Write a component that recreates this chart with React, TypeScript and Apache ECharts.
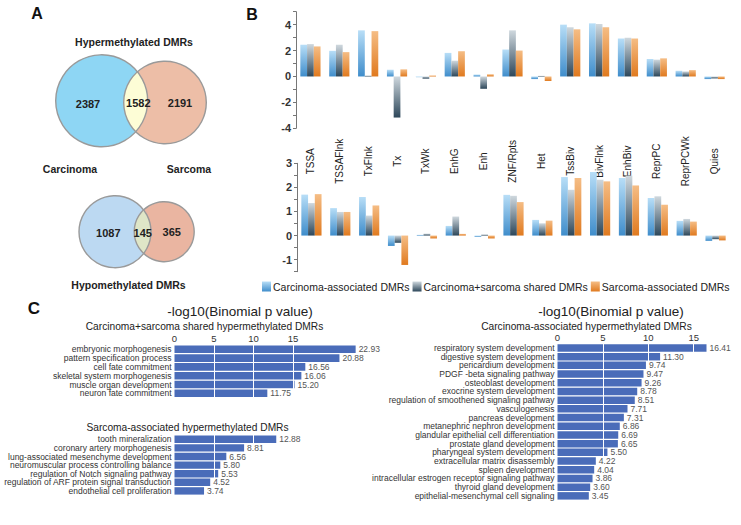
import React, { useEffect, useRef } from 'react';
import * as echarts from 'echarts';

// ---------- Panel A data ----------
const vennGroups = ['Carcinoma', 'Sarcoma'];
const hyperCounts = [2387, 1582, 2191];
const hypoCounts = [1087, 145, 365];

// ---------- Panel B data ----------
const bCategories = ['TSSA', 'TSSAFlnk', 'TxFlnk', 'Tx', 'TxWk', 'EnhG', 'Enh', 'ZNF/Rpts', 'Het', 'TssBiv', 'BivFlnk', 'EnhBiv', 'ReprPC', 'ReprPCWk', 'Quies'];
const seriesNames = ['Carcinoma-associated DMRs', 'Carcinoma+sarcoma shared DMRs', 'Sarcoma-associated DMRs'];
const topCarcinoma = [2.45, 1.98, 3.56, 0.52, -0.05, 1.82, 0.15, 2.08, -0.2, 4.0, 4.1, 2.93, 1.35, 0.44, -0.2];
const topShared = [2.5, 2.45, 0.08, -3.17, -0.17, 1.22, -0.95, 3.56, 0.05, 3.8, 4.05, 2.99, 1.3, 0.39, -0.15];
const topSarcoma = [2.32, 1.88, 3.5, 0.55, 0.08, 1.95, 0.17, 2.0, -0.35, 3.64, 3.8, 2.93, 1.4, 0.49, -0.2];
const bottomCarcinoma = [1.7, 1.14, 1.6, -0.43, 0.03, 0.4, -0.05, 1.69, 0.65, 2.43, 2.64, 2.39, 1.56, 0.61, -0.22];
const bottomShared = [1.35, 0.98, 0.83, -0.3, 0.08, 0.79, 0.05, 1.65, 0.51, 1.9, 2.32, 2.49, 1.63, 0.69, -0.15];
const bottomSarcoma = [1.72, 0.98, 1.25, -1.22, -0.12, 0.07, -0.12, 1.39, 0.62, 2.39, 2.25, 2.08, 1.28, 0.58, -0.2];

// ---------- Panel C data ----------
const cTitle = '-log10(Binomial p value)';
const sharedTitle = 'Carcinoma+sarcoma shared hypermethylated DMRs';
const sharedTerms = ['embryonic morphogenesis', 'pattern specification process', 'cell fate commitment', 'skeletal system morphogenesis', 'muscle organ development', 'neuron fate commitment'];
const sharedValues = [22.93, 20.88, 16.56, 16.06, 15.2, 11.75];
const sarcomaTitle = 'Sarcoma-associated hypermethylated DMRs';
const sarcomaTerms = ['tooth mineralization', 'coronary artery morphogenesis', 'lung-associated mesenchyme development', 'neuromuscular process controlling balance', 'regulation of Notch signaling pathway', 'regulation of ARF protein signal transduction', 'endothelial cell proliferation'];
const sarcomaValues = [12.88, 8.81, 6.56, 5.8, 5.53, 4.52, 3.74];
const carcinomaTitle = 'Carcinoma-associated hypermethylated DMRs';
const carcinomaTerms = ['respiratory system development', 'digestive system development', 'pericardium development', 'PDGF -beta signaling pathway', 'osteoblast development', 'exocrine system development', 'regulation of smoothened signaling pathway', 'vasculogenesis', 'pancreas development', 'metanephric nephron development', 'glandular epithelial cell differentiation', 'prostate gland development', 'pharyngeal system development', 'extracellular matrix disassembly', 'spleen development', 'intracellular estrogen receptor signaling pathway', 'thyroid gland development', 'epithelial-mesenchymal cell signaling'];
const carcinomaValues = [16.41, 11.3, 9.74, 9.47, 9.26, 8.78, 8.51, 7.71, 7.31, 6.86, 6.69, 6.65, 5.5, 4.22, 4.04, 3.86, 3.6, 3.45];
const cTicks = [0, 5, 10, 15];

const FONT = '"Liberation Sans", Arial, Helvetica, sans-serif';

function grad(top: string, bottom: string) {
  return new echarts.graphic.LinearGradient(0, 0, 0, 1, [
    { offset: 0, color: top },
    { offset: 1, color: bottom },
  ]);
}

function lensPoints(cx1: number, cy1: number, r1: number, cx2: number, cy2: number, r2: number, n = 40) {
  const dx = cx2 - cx1, dy = cy2 - cy1;
  const d = Math.sqrt(dx * dx + dy * dy);
  const a = (r1 * r1 - r2 * r2 + d * d) / (2 * d);
  const phi = Math.atan2(dy, dx);
  const alpha = Math.acos(a / r1);
  const beta = Math.acos((d - a) / r2);
  const psi = phi + Math.PI;
  const pts: number[][] = [];
  for (let i = 0; i <= n; i++) {
    const t = phi - alpha + (2 * alpha * i) / n;
    pts.push([cx1 + r1 * Math.cos(t), cy1 + r1 * Math.sin(t)]);
  }
  for (let i = 0; i <= n; i++) {
    const t = psi - beta + (2 * beta * i) / n;
    pts.push([cx2 + r2 * Math.cos(t), cy2 + r2 * Math.sin(t)]);
  }
  return pts;
}

function txt(text: string, x: number, y: number, size: number, weight: string, color = '#222', align = 'center') {
  return {
    type: 'text',
    x,
    y,
    silent: true,
    style: {
      text,
      fill: color,
      fontSize: size,
      fontWeight: weight,
      fontFamily: FONT,
      align,
      textAlign: align,
      verticalAlign: 'middle',
      textVerticalAlign: 'middle',
    },
  };
}

function venn(c1: number[], c2: number[], cols: string[], counts: number[], textPos: number[][]) {
  const stroke = { fill: 'none', stroke: '#9a9a9a', lineWidth: 1.4 };
  return [
    { type: 'circle', silent: true, shape: { cx: c1[0], cy: c1[1], r: c1[2] }, style: { fill: cols[0] } },
    { type: 'circle', silent: true, shape: { cx: c2[0], cy: c2[1], r: c2[2] }, style: { fill: cols[1] } },
    { type: 'polygon', silent: true, shape: { points: lensPoints(c1[0], c1[1], c1[2], c2[0], c2[1], c2[2]) }, style: { fill: cols[2] } },
    { type: 'circle', silent: true, shape: { cx: c1[0], cy: c1[1], r: c1[2] }, style: stroke },
    { type: 'circle', silent: true, shape: { cx: c2[0], cy: c2[1], r: c2[2] }, style: stroke },
    ...counts.map((v, i) => txt(String(v), textPos[i][0], textPos[i][1], 11, 'bold')),
  ];
}

const blue = () => grad('#b8def7', '#3f8dcb');
const gray = () => grad('#cfd8de', '#2d475a');
const orange = () => grad('#f5bd85', '#e07a1f');
const colorFns = [blue, gray, orange];

// bars + white grid lines drawn over them, then a transparent twin series carrying the value labels on top
function cBars(values: number[], idx: number) {
  const bars = {
    type: 'bar',
    xAxisIndex: idx,
    yAxisIndex: idx,
    data: values,
    barCategoryGap: '14%',
    barGap: '-100%',
    z: 2,
    itemStyle: { color: '#4a6cb9' },
    markLine: {
      silent: true,
      z: 3,
      symbol: ['none', 'none'],
      label: { show: false },
      lineStyle: { color: '#ffffff', width: 1, type: 'solid' },
      data: cTicks.filter((t) => t > 0).map((t) => ({ xAxis: t })),
    },
  };
  const labels = {
    type: 'bar',
    xAxisIndex: idx,
    yAxisIndex: idx,
    data: values,
    barCategoryGap: '14%',
    barGap: '-100%',
    z: 10,
    silent: true,
    itemStyle: { color: 'rgba(0,0,0,0)' },
    label: {
      show: true,
      position: 'right',
      distance: 3,
      formatter: (p: any) => Number(p.value).toFixed(2),
      fontSize: 8.5,
      color: '#555',
      fontFamily: FONT,
      backgroundColor: '#ffffff',
    },
  };
  return [bars, labels];
}

function cValueAxis(idx: number, max: number, showLabels: boolean) {
  return {
    type: 'value',
    gridIndex: idx,
    position: 'top',
    min: 0,
    max,
    interval: 5,
    axisLine: { show: false },
    axisTick: { show: false },
    splitLine: { show: false },
    axisLabel: {
      show: showLabels,
      margin: 1,
      fontSize: 9.5,
      color: '#333',
      fontFamily: FONT,
      formatter: (v: number) => (cTicks.includes(v) ? String(v) : ''),
    },
  };
}

function cCatAxis(idx: number, terms: string[]) {
  return {
    type: 'category',
    gridIndex: idx,
    data: terms,
    inverse: true,
    axisLine: { show: false },
    axisTick: { show: false },
    axisLabel: { interval: 0, margin: 3, fontSize: 8.5, color: '#333', fontFamily: FONT },
  };
}

export default function App() {
  const ref = useRef<HTMLDivElement>(null);
  useEffect(() => {
    if (!ref.current) return;
    const chart = echarts.init(ref.current, undefined, { renderer: 'svg' });

    const bSeries: any[] = [];
    const topData = [topCarcinoma, topShared, topSarcoma];
    const bottomData = [bottomCarcinoma, bottomShared, bottomSarcoma];
    seriesNames.forEach((name, i) => {
      bSeries.push({
        name,
        type: 'bar',
        xAxisIndex: 0,
        yAxisIndex: 0,
        data: topData[i],
        barGap: '0%',
        barCategoryGap: '30%',
        itemStyle: { color: colorFns[i]() },
      });
    });
    seriesNames.forEach((name, i) => {
      bSeries.push({
        name,
        type: 'bar',
        xAxisIndex: 1,
        yAxisIndex: 1,
        data: bottomData[i],
        barGap: '0%',
        barCategoryGap: '30%',
        itemStyle: { color: colorFns[i]() },
      });
    });

    const bYAxis = (idx: number, min: number, max: number, interval: number, isLabel: (v: number) => boolean) => ({
      type: 'value',
      gridIndex: idx,
      min,
      max,
      interval,
      axisLine: { show: true, lineStyle: { color: '#777', width: 1 } },
      axisTick: { show: true, length: 3, lineStyle: { color: '#777' } },
      splitLine: { show: false },
      axisLabel: {
        margin: 5,
        fontSize: 11,
        fontWeight: 'bold',
        color: '#333',
        fontFamily: FONT,
        formatter: (v: number) => (isLabel(v) ? String(v) : ''),
      },
    });

    const option: any = {
      animation: false,
      backgroundColor: '#ffffff',
      textStyle: { fontFamily: FONT },
      grid: [
        { left: 296, top: 11.7, width: 433, height: 116.6, outerBoundsMode: 'none' },
        { left: 297, top: 163.3, width: 433, height: 108.4, outerBoundsMode: 'none' },
        { left: 174.5, top: 344.9, width: 197.5, height: 52.8, outerBoundsMode: 'none' },
        { left: 174.5, top: 435, width: 197.5, height: 60.2, outerBoundsMode: 'none' },
        { left: 557.5, top: 343.6, width: 181.6, height: 156.6, outerBoundsMode: 'none' },
      ],
      legend: {
        data: seriesNames,
        left: 262,
        top: 281,
        width: 479,
        padding: 0,
        itemGap: 3,
        itemWidth: 9,
        itemHeight: 10,
        icon: 'rect',
        textStyle: { fontSize: 10.5, color: '#222', fontFamily: FONT, padding: [0, 0, 0, -3] },
      },
      xAxis: [
        {
          type: 'category',
          gridIndex: 0,
          data: bCategories,
          axisLine: { show: false, onZero: false },
          axisTick: { show: false },
          axisLabel: {
            rotate: 90,
            margin: 33,
            align: 'center',
            verticalAlign: 'middle',
            fontSize: 10,
            color: '#222',
            fontFamily: FONT,
            interval: 0,
          },
        },
        {
          type: 'category',
          gridIndex: 1,
          data: bCategories,
          axisLine: { show: false, onZero: false },
          axisTick: { show: false },
          axisLabel: { show: false },
        },
        cValueAxis(2, 25, true),
        cValueAxis(3, 25, false),
        cValueAxis(4, 20, true),
      ],
      yAxis: [
        bYAxis(0, -4, 5, 1, (v) => v % 2 === 0),
        bYAxis(1, -1.5, 3, 0.5, (v) => Number.isInteger(v)),
        cCatAxis(2, sharedTerms),
        cCatAxis(3, sarcomaTerms),
        cCatAxis(4, carcinomaTerms),
      ],
      series: [...bSeries, ...cBars(sharedValues, 2), ...cBars(sarcomaValues, 3), ...cBars(carcinomaValues, 4)],
      graphic: [
        txt('A', 37, 13, 16, 'bold', '#111'),
        txt('B', 252, 14, 16, 'bold', '#111'),
        txt('C', 34, 308, 17, 'bold', '#111'),
        txt('Hypermethylated DMRs', 134, 42, 10.5, 'bold'),
        ...venn([101.7, 100.8, 46], [165, 102.5, 41.3], ['#8ed6f4', '#edbea7', '#fdfdd6'], hyperCounts, [[88, 104], [138.3, 103], [180, 102.7]]),
        txt(vennGroups[0], 70, 169, 10.5, 'bold'),
        txt(vennGroups[1], 189, 169, 10.5, 'bold'),
        ...venn([115, 231.7, 36], [164.2, 231.7, 30], ['#bcd9f2', '#eab5a1', '#dfe6c7'], hypoCounts, [[108.3, 233.3], [142.7, 232.7], [171.7, 232.3]]),
        txt('Hypomethylated DMRs', 128.5, 285, 10.5, 'bold'),
        txt(cTitle, 240, 311, 13.5, 'normal', '#222'),
        txt(sharedTitle, 204.5, 326.5, 10.2, 'normal', '#222'),
        txt(sarcomaTitle, 187.5, 427.3, 10.2, 'normal', '#222'),
        txt(cTitle, 611, 311, 13.5, 'normal', '#222'),
        txt(carcinomaTitle, 586.5, 326.5, 10.2, 'normal', '#222'),
      ],
    };
    chart.setOption(option);
    return () => chart.dispose();
  }, []);
  return <div ref={ref} style={{ position: 'absolute', left: 0, top: 0, width: 741, height: 525 }} />;
}
